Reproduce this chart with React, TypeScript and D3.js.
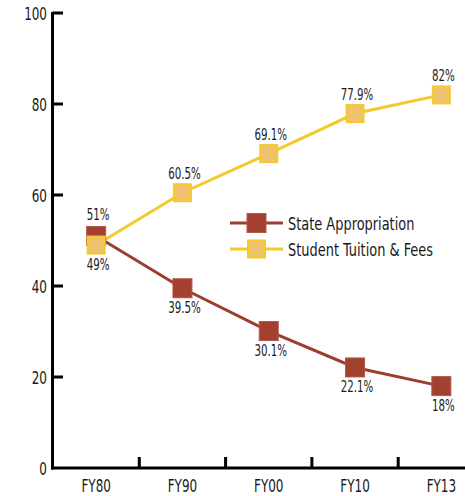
import React from "react";
import * as d3 from "d3";

const categories = ["FY80", "FY90", "FY00", "FY10", "FY13"];
const stateValues = [51, 39.5, 30.1, 22.1, 18];
const tuitionValues = [49, 60.5, 69.1, 77.9, 82];
const stateLabels = ["51%", "39.5%", "30.1%", "22.1%", "18%"];
const tuitionLabels = ["49%", "60.5%", "69.1%", "77.9%", "82%"];
const yTicks = [0, 20, 40, 60, 80, 100];
const seriesNames = ["State Appropriation", "Student Tuition & Fees"];

const W = 465, H = 496;
const FONT = "'DejaVu Sans Condensed', 'DejaVu Sans', sans-serif";

function T(props: any) {
  const { x, y, anchor, size, sx, children } = props;
  return (
    <g transform={`translate(${x},${y}) scale(${sx ?? 0.75},1)`}>
      <text x={0} y={0} textAnchor={anchor || "start"} fontFamily={FONT} fontSize={size}
        style={{ fontStretch: "condensed" }} fill="#1a1a1a">{children}</text>
    </g>
  );
}

export default function App() {
  const x = d3.scaleBand<string>().domain(categories).range([53, 484.5]);
  const y = d3.scaleLinear().domain([0, 100]).range([468, 13]);
  const cx = (c: string) => (x(c) as number) + x.bandwidth() / 2;
  const line = d3.line<number>().x((_, i) => cx(categories[i])).y((d) => y(d));

  const stateColor = "#9c3d2f";
  const stateFill = "#a3402f";
  const tuitionStroke = "#f3c92b";
  const tuitionFill = "#f0c26e";
  const s = 19;

  return (
    <svg width={W} height={H} style={{ position: "absolute", left: 0, top: 0, background: "#fff" }}>
      <line x1={52.5} x2={52.5} y1={12} y2={469.5} stroke="#000" strokeWidth={3} />
      <line x1={51} x2={W} y1={468} y2={468} stroke="#000" strokeWidth={3} />
      {yTicks.map((t) => (
        <g key={t}>
          {t > 0 && <line x1={52.5} x2={63} y1={y(t)} y2={y(t)} stroke="#000" strokeWidth={3} />}
          <T x={47} y={y(t) + 7} anchor="end" size={18.5} sx={0.72}>{t}</T>
        </g>
      ))}
      {categories.slice(1).map((c) => (
        <line key={c} x1={x(c)} x2={x(c)} y1={468} y2={457} stroke="#000" strokeWidth={3} />
      ))}
      {categories.map((c) => (
        <T key={c} x={cx(c)} y={492} anchor="middle" size={18.5} sx={0.72}>{c}</T>
      ))}

      <path d={line(stateValues) as string} fill="none" stroke={stateColor} strokeWidth={3} />
      <path d={line(tuitionValues) as string} fill="none" stroke={tuitionStroke} strokeWidth={3} />

      {stateValues.map((v, i) => (
        <rect key={"s" + i} x={cx(categories[i]) - s / 2} y={y(v) - s / 2} width={s} height={s} fill={stateFill} stroke="#b0584b" strokeWidth={1} />
      ))}
      {tuitionValues.map((v, i) => (
        <rect key={"t" + i} x={cx(categories[i]) - s / 2 + 1} y={y(v) - s / 2 + 1} width={s - 2} height={s - 2} fill={tuitionFill} stroke={tuitionStroke} strokeWidth={2} />
      ))}

      {stateValues.map((v, i) => (
        <T key={"sl" + i} x={cx(categories[i]) + 2} y={i === 0 ? y(v) - 16 : y(v) + 24.5} anchor="middle" size={15} sx={0.76}>{stateLabels[i]}</T>
      ))}
      {tuitionValues.map((v, i) => (
        <T key={"tl" + i} x={cx(categories[i]) + 2} y={i === 0 ? y(v) + 25 : y(v) - 14} anchor="middle" size={15} sx={0.76}>{tuitionLabels[i]}</T>
      ))}

      {seriesNames.map((n, i) => {
        const ly = 223 + i * 26;
        const isState = i === 0;
        return (
          <g key={n}>
            <line x1={230} x2={283} y1={ly} y2={ly} stroke={isState ? stateColor : tuitionStroke} strokeWidth={3} />
            {isState ? (
              <rect x={247} y={ly - 9.5} width={19} height={19} fill={stateFill} stroke="#b0584b" strokeWidth={1} />
            ) : (
              <rect x={248} y={ly - 8.5} width={17} height={17} fill={tuitionFill} stroke={tuitionStroke} strokeWidth={2} />
            )}
            <T x={288} y={ly + 6.5} size={18} sx={0.8}>{n}</T>
          </g>
        );
      })}
    </svg>
  );
}
